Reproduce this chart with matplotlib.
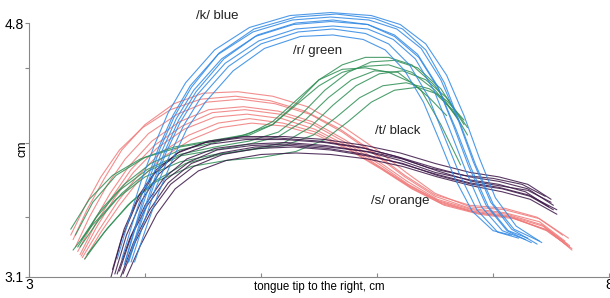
import matplotlib
matplotlib.use("Agg")
import matplotlib.pyplot as plt

plt.rcParams['font.family'] = ['Liberation Sans', 'DejaVu Sans']

# ---- data (cm) ----
k_blue = [
    ([3.76, 3.86, 3.97, 4.08, 4.2, 4.35, 4.6, 4.9, 5.25, 5.6, 5.95, 6.2, 6.42, 6.6, 6.75, 6.88, 7.02, 7.2, 7.42],
     [3.22, 3.48, 3.75, 3.98, 4.2, 4.40, 4.62, 4.77, 4.85, 4.87, 4.85, 4.79, 4.66, 4.45, 4.18, 3.90, 3.63, 3.44, 3.33]),
    ([3.80, 3.90, 4.01, 4.12, 4.24, 4.39, 4.63, 4.93, 5.27, 5.6, 5.93, 6.17, 6.38, 6.55, 6.70, 6.83, 6.98, 7.16, 7.38],
     [3.22, 3.48, 3.74, 3.97, 4.18, 4.38, 4.59, 4.74, 4.82, 4.84, 4.82, 4.76, 4.63, 4.42, 4.15, 3.87, 3.60, 3.42, 3.32]),
    ([3.83, 3.93, 4.04, 4.15, 4.27, 4.42, 4.66, 4.95, 5.28, 5.6, 5.92, 6.15, 6.35, 6.52, 6.66, 6.79, 6.94, 7.12, 7.33],
     [3.20, 3.46, 3.72, 3.95, 4.16, 4.35, 4.56, 4.71, 4.79, 4.81, 4.79, 4.72, 4.59, 4.38, 4.11, 3.84, 3.58, 3.41, 3.33]),
    ([3.86, 3.96, 4.07, 4.18, 4.30, 4.45, 4.69, 4.98, 5.3, 5.62, 5.92, 6.14, 6.33, 6.49, 6.63, 6.76, 6.90, 7.08, 7.28],
     [3.20, 3.45, 3.70, 3.93, 4.13, 4.32, 4.53, 4.68, 4.76, 4.78, 4.76, 4.69, 4.56, 4.35, 4.08, 3.82, 3.57, 3.41, 3.35]),
    ([3.88, 3.98, 4.09, 4.21, 4.33, 4.48, 4.72, 5.0, 5.32, 5.62, 5.9, 6.1, 6.28, 6.44, 6.58, 6.71, 6.86, 7.04, 7.22],
     [3.20, 3.44, 3.69, 3.91, 4.11, 4.30, 4.51, 4.66, 4.74, 4.76, 4.73, 4.66, 4.52, 4.31, 4.04, 3.79, 3.55, 3.40, 3.36]),
    ([3.91, 4.01, 4.12, 4.24, 4.36, 4.52, 4.76, 5.03, 5.34, 5.62, 5.88, 6.07, 6.24, 6.40, 6.54, 6.67, 6.82, 7.0, 7.16],
     [3.20, 3.43, 3.67, 3.89, 4.09, 4.27, 4.48, 4.63, 4.71, 4.72, 4.69, 4.62, 4.48, 4.27, 4.01, 3.76, 3.54, 3.41, 3.38]),
    ([3.82, 3.92, 4.02, 4.13, 4.25, 4.40, 4.64, 4.94, 5.3, 5.65, 5.98, 6.22, 6.42, 6.58, 6.72, 6.85, 7.0, 7.18, 7.40],
     [3.18, 3.45, 3.72, 3.96, 4.17, 4.37, 4.60, 4.76, 4.84, 4.86, 4.83, 4.76, 4.62, 4.40, 4.12, 3.85, 3.59, 3.42, 3.34]),
    ([3.85, 3.95, 4.06, 4.17, 4.29, 4.44, 4.68, 4.97, 5.3, 5.62, 5.92, 6.15, 6.36, 6.53, 6.68, 6.81, 6.96, 7.13, 7.30],
     [3.19, 3.45, 3.71, 3.94, 4.15, 4.34, 4.56, 4.72, 4.80, 4.82, 4.79, 4.71, 4.57, 4.36, 4.09, 3.83, 3.57, 3.41, 3.36]),
]

r_green = [
    ([3.40, 3.55, 3.75, 4.0, 4.3, 4.6, 4.9, 5.1, 5.3, 5.5, 5.7, 5.9, 6.1, 6.3, 6.5, 6.7],
     [3.38, 3.60, 3.78, 3.90, 3.97, 4.01, 4.05, 4.12, 4.26, 4.42, 4.52, 4.57, 4.57, 4.52, 4.38, 4.15]),
    ([3.42, 3.58, 3.78, 4.02, 4.3, 4.6, 4.9, 5.15, 5.35, 5.55, 5.75, 5.95, 6.15, 6.35, 6.55, 6.75],
     [3.30, 3.50, 3.68, 3.82, 3.92, 3.97, 4.01, 4.07, 4.19, 4.35, 4.47, 4.54, 4.55, 4.50, 4.36, 4.12]),
    ([3.38, 3.55, 3.75, 4.0, 4.3, 4.6, 4.9, 5.2, 5.45, 5.65, 5.85, 6.05, 6.25, 6.45, 6.6, 6.75],
     [3.28, 3.45, 3.62, 3.77, 3.87, 3.92, 3.95, 3.98, 4.05, 4.17, 4.30, 4.38, 4.40, 4.36, 4.28, 4.15]),
    ([3.45, 3.62, 3.82, 4.05, 4.3, 4.6, 4.9, 5.1, 5.3, 5.5, 5.7, 5.9, 6.1, 6.3, 6.45, 6.6],
     [3.35, 3.55, 3.72, 3.86, 3.95, 4.00, 4.06, 4.14, 4.28, 4.42, 4.49, 4.50, 4.47, 4.40, 4.30, 4.18]),
    ([3.50, 3.68, 3.88, 4.1, 4.4, 4.7, 5.0, 5.3, 5.55, 5.75, 5.95, 6.15, 6.35, 6.5, 6.65, 6.78],
     [3.25, 3.43, 3.60, 3.74, 3.84, 3.88, 3.90, 3.94, 4.02, 4.14, 4.27, 4.35, 4.37, 4.33, 4.22, 4.05]),
    ([3.36, 3.52, 3.72, 3.96, 4.25, 4.55, 4.85, 5.1, 5.3, 5.5, 5.7, 5.9, 6.1, 6.3, 6.5, 6.68],
     [3.42, 3.62, 3.78, 3.89, 3.97, 4.01, 4.05, 4.12, 4.25, 4.38, 4.47, 4.51, 4.52, 4.47, 4.35, 4.18]),
    ([3.48, 3.65, 3.85, 4.08, 4.35, 4.65, 4.95, 5.2, 5.42, 5.62, 5.82, 6.02, 6.22, 6.42, 6.6, 6.78],
     [3.22, 3.40, 3.58, 3.74, 3.86, 3.92, 3.96, 4.00, 4.10, 4.25, 4.38, 4.46, 4.48, 4.42, 4.30, 4.10]),
    ([3.44, 3.6, 3.8, 4.03, 4.3, 4.6, 4.9, 5.15, 5.38, 5.58, 5.78, 5.98, 6.18, 6.38, 6.55, 6.72],
     [3.30, 3.48, 3.66, 3.81, 3.91, 3.95, 3.99, 4.04, 4.15, 4.30, 4.42, 4.48, 4.47, 4.35, 4.12, 3.85]),
]

t_black = [
    ([3.72, 3.82, 3.95, 4.1, 4.3, 4.55, 4.85, 5.2, 5.55, 5.9, 6.2, 6.5, 6.8, 7.05, 7.3, 7.5],
     [3.15, 3.42, 3.65, 3.82, 3.94, 4.01, 4.04, 4.04, 4.02, 3.98, 3.93, 3.86, 3.80, 3.77, 3.72, 3.62]),
    ([3.74, 3.84, 3.97, 4.12, 4.32, 4.57, 4.87, 5.2, 5.55, 5.9, 6.2, 6.5, 6.8, 7.05, 7.3, 7.52],
     [3.12, 3.38, 3.61, 3.79, 3.92, 3.99, 4.02, 4.02, 4.00, 3.96, 3.90, 3.83, 3.77, 3.74, 3.69, 3.58]),
    ([3.76, 3.87, 4.0, 4.16, 4.36, 4.6, 4.9, 5.22, 5.56, 5.9, 6.2, 6.5, 6.8, 7.05, 7.28, 7.48],
     [3.12, 3.36, 3.58, 3.76, 3.89, 3.96, 3.99, 4.00, 3.98, 3.94, 3.88, 3.80, 3.75, 3.72, 3.67, 3.57]),
    ([3.79, 3.9, 4.04, 4.2, 4.4, 4.65, 4.95, 5.25, 5.58, 5.9, 6.2, 6.5, 6.8, 7.05, 7.3, 7.55],
     [3.10, 3.33, 3.55, 3.73, 3.86, 3.93, 3.97, 3.98, 3.96, 3.92, 3.86, 3.79, 3.73, 3.70, 3.65, 3.55]),
    ([3.84, 3.96, 4.1, 4.26, 4.46, 4.7, 5.0, 5.3, 5.6, 5.92, 6.22, 6.52, 6.82, 7.08, 7.32, 7.55],
     [3.10, 3.31, 3.52, 3.69, 3.81, 3.88, 3.92, 3.93, 3.92, 3.89, 3.84, 3.77, 3.71, 3.67, 3.62, 3.52]),
    ([3.70, 3.80, 3.93, 4.08, 4.28, 4.52, 4.82, 5.15, 5.5, 5.85, 6.15, 6.45, 6.75, 7.0, 7.25, 7.45],
     [3.08, 3.36, 3.60, 3.79, 3.93, 4.00, 4.03, 4.03, 4.01, 3.97, 3.91, 3.83, 3.78, 3.76, 3.72, 3.64]),
    ([3.78, 3.88, 4.02, 4.18, 4.38, 4.62, 4.92, 5.24, 5.58, 5.92, 6.22, 6.52, 6.82, 7.06, 7.3, 7.5],
     [3.14, 3.37, 3.58, 3.75, 3.87, 3.95, 3.98, 3.99, 3.97, 3.94, 3.89, 3.81, 3.74, 3.71, 3.68, 3.60]),
    ([3.81, 3.92, 4.06, 4.22, 4.42, 4.67, 4.97, 5.28, 5.6, 5.92, 6.22, 6.52, 6.82, 7.08, 7.32, 7.52],
     [3.12, 3.34, 3.55, 3.72, 3.84, 3.92, 3.96, 3.97, 3.95, 3.91, 3.86, 3.78, 3.72, 3.69, 3.64, 3.55]),
]

s_orange = [
    ([3.38, 3.5, 3.65, 3.8, 4.0, 4.25, 4.5, 4.8, 5.1, 5.4, 5.7, 6.0, 6.25, 6.5, 6.8, 7.1, 7.4, 7.65],
     [3.35, 3.55, 3.76, 3.95, 4.12, 4.26, 4.33, 4.34, 4.31, 4.24, 4.11, 3.95, 3.80, 3.66, 3.57, 3.55, 3.49, 3.36]),
    ([3.40, 3.52, 3.67, 3.83, 4.03, 4.28, 4.53, 4.82, 5.12, 5.42, 5.7, 5.98, 6.24, 6.5, 6.8, 7.1, 7.4, 7.62],
     [3.30, 3.50, 3.71, 3.89, 4.06, 4.19, 4.27, 4.29, 4.26, 4.19, 4.07, 3.92, 3.77, 3.64, 3.56, 3.53, 3.47, 3.34]),
    ([3.42, 3.55, 3.7, 3.86, 4.06, 4.3, 4.55, 4.85, 5.15, 5.44, 5.72, 6.0, 6.26, 6.52, 6.82, 7.12, 7.42, 7.64],
     [3.27, 3.46, 3.66, 3.84, 4.01, 4.14, 4.22, 4.24, 4.21, 4.14, 4.02, 3.88, 3.74, 3.62, 3.55, 3.52, 3.45, 3.32]),
    ([3.45, 3.58, 3.73, 3.9, 4.1, 4.34, 4.6, 4.88, 5.18, 5.46, 5.74, 6.02, 6.28, 6.55, 6.85, 7.15, 7.45, 7.66],
     [3.24, 3.43, 3.62, 3.80, 3.96, 4.09, 4.17, 4.19, 4.16, 4.09, 3.98, 3.84, 3.71, 3.60, 3.53, 3.50, 3.42, 3.30]),
    ([3.48, 3.62, 3.78, 3.95, 4.15, 4.4, 4.65, 4.92, 5.2, 5.48, 5.76, 6.04, 6.3, 6.58, 6.88, 7.18, 7.48, 7.68],
     [3.22, 3.40, 3.58, 3.75, 3.90, 4.02, 4.10, 4.13, 4.11, 4.05, 3.95, 3.82, 3.69, 3.58, 3.52, 3.49, 3.41, 3.28]),
    ([3.36, 3.48, 3.62, 3.78, 3.98, 4.22, 4.48, 4.78, 5.08, 5.38, 5.68, 5.98, 6.24, 6.5, 6.8, 7.1, 7.38, 7.6],
     [3.38, 3.57, 3.77, 3.95, 4.10, 4.22, 4.29, 4.31, 4.28, 4.21, 4.09, 3.93, 3.78, 3.65, 3.58, 3.56, 3.50, 3.38]),
    ([3.44, 3.57, 3.72, 3.88, 4.08, 4.32, 4.58, 4.86, 5.16, 5.45, 5.73, 6.01, 6.27, 6.53, 6.83, 7.13, 7.43, 7.66],
     [3.25, 3.45, 3.64, 3.82, 3.98, 4.11, 4.20, 4.22, 4.19, 4.12, 4.00, 3.86, 3.72, 3.61, 3.54, 3.51, 3.44, 3.31]),
    ([3.46, 3.6, 3.76, 3.93, 4.13, 4.38, 4.63, 4.9, 5.19, 5.47, 5.75, 6.03, 6.29, 6.56, 6.86, 7.16, 7.46, 7.68],
     [3.23, 3.41, 3.60, 3.77, 3.93, 4.05, 4.13, 4.16, 4.13, 4.07, 3.96, 3.83, 3.70, 3.59, 3.53, 3.50, 3.41, 3.29]),
]

labels = ["/k/ blue", "/r/ green", "/t/ black", "/s/ orange"]
label_pos = [(4.62, 4.85), (5.49, 4.61), (6.18, 4.08), (6.2, 3.61)]

x_ticks = [3, 4, 5, 6, 7, 8]
x_ticklabels = ["3", "", "", "", "", "8"]
y_ticks = [3.1, 3.5, 4.0, 4.5, 4.8]
y_ticklabels = ["3.1", "", "", "", "4.8"]

# ---- figure ----
fig = plt.figure(figsize=(6.10, 2.98), dpi=100)
ax = fig.add_axes([0.0475, 0.0705, 0.951, 0.9275])

groups = [
    (s_orange, '#f07a7a'),
    (r_green, '#2f8f55'),
    (t_black, '#3b1647'),
    (k_blue, '#2f88e4'),
]
for curves, col in groups:
    for xs, ys in curves:
        ax.plot(xs, ys, color=col, lw=0.8, alpha=0.85, solid_capstyle='round')

for txt, (tx, ty) in zip(labels, label_pos):
    ax.text(tx, ty, txt, fontsize=9.5, ha='center', va='center', color='#222222', clip_on=False)

ax.set_xlim(3, 8)
ax.set_ylim(3.1, 4.95)
ax.set_xticks(x_ticks)
ax.set_xticklabels(x_ticklabels)
ax.set_yticks(y_ticks)
ax.set_yticklabels(y_ticklabels)
ax.tick_params(axis='x', direction='in', length=3, color='#888888', labelsize=10, pad=1)
ax.tick_params(axis='y', direction='out', length=3, color='#888888', labelsize=10, pad=1)
for s in ['top', 'right']:
    ax.spines[s].set_visible(False)
for s in ['left', 'bottom']:
    ax.spines[s].set_color('#888888')
    ax.spines[s].set_linewidth(0.8)
ax.spines['left'].set_bounds(3.1, 4.8)
ax.set_xlabel("tongue tip to the right, cm", fontsize=8.3, labelpad=-8)
ax.set_ylabel("cm", fontsize=9)
ax.yaxis.set_label_coords(-0.001, 0.463)

fig.savefig("out.png", dpi=100)
